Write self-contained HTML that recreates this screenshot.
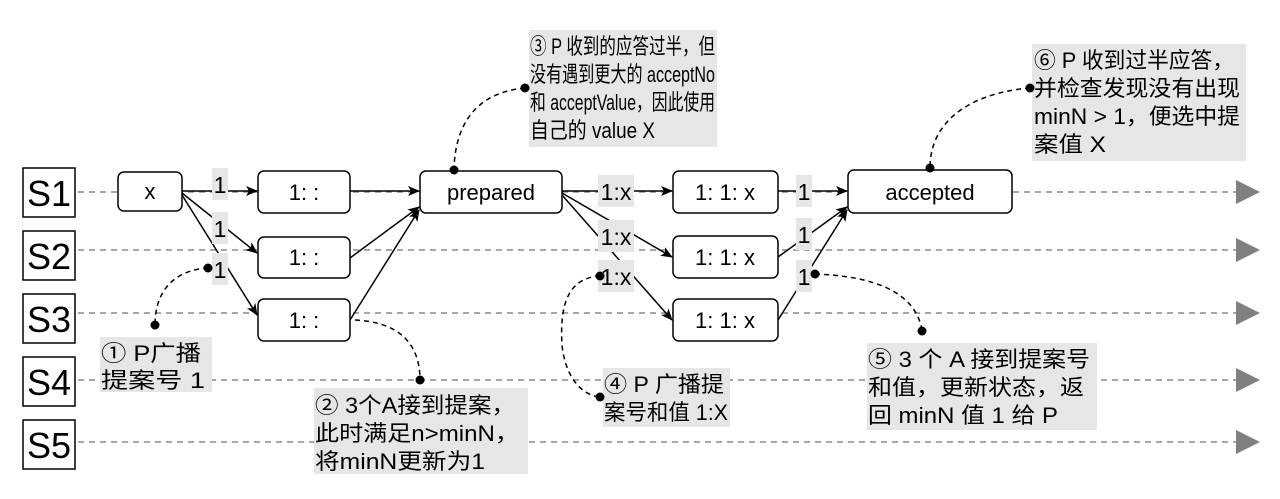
<!DOCTYPE html>
<html><head><meta charset="utf-8">
<style>html,body{margin:0;padding:0;background:#fff;}svg{display:block;}
text{font-family:"Liberation Sans","Noto Sans CJK SC",sans-serif;fill:#000;}
</style></head><body>
<svg width="1280" height="499" viewBox="0 0 1280 499" xmlns="http://www.w3.org/2000/svg">
<defs>
<marker id="ah" markerWidth="12" markerHeight="10" refX="11" refY="5" orient="auto" markerUnits="userSpaceOnUse"><path d="M0,0 L12,5 L0,10 L3,5 z" fill="#000"/></marker>
</defs>
<g stroke="#888" stroke-width="1.5" stroke-dasharray="6,5" fill="none">
<line x1="78" y1="192" x2="1238" y2="192"/>
<line x1="78" y1="250" x2="1238" y2="250"/>
<line x1="78" y1="313" x2="1238" y2="313"/>
<line x1="78" y1="380" x2="1238" y2="380"/>
<line x1="78" y1="442" x2="1238" y2="442"/>
</g>
<g fill="#808080">
<polygon points="1236,180 1260,192 1236,204"/>
<polygon points="1236,238 1260,250 1236,262"/>
<polygon points="1236,301 1260,313 1236,325"/>
<polygon points="1236,368 1260,380 1236,392"/>
<polygon points="1236,430 1260,442 1236,454"/>
</g>
<g fill="#fff" stroke="#000" stroke-width="1.5">
<rect x="23" y="168" width="52" height="49"/>
<rect x="23" y="231" width="52" height="49"/>
<rect x="23" y="294" width="52" height="49"/>
<rect x="23" y="357" width="52" height="49"/>
<rect x="23" y="420" width="52" height="49"/>
</g>
<g font-size="36" text-anchor="middle">
<text x="49" y="206">S1</text><text x="49" y="269">S2</text><text x="49" y="332">S3</text><text x="49" y="395">S4</text><text x="49" y="458">S5</text>
</g>
<g fill="#e6e6e6">
<rect x="529" y="30" width="188" height="117"/>
<rect x="1032" y="44" width="214" height="117"/>
<rect x="100" y="337" width="112" height="55"/>
<rect x="314" y="388" width="214" height="86"/>
<rect x="603" y="368" width="127" height="59"/>
<rect x="867" y="343" width="230" height="87"/>
</g>
<g stroke="#000" stroke-width="1.5" fill="none" marker-end="url(#ah)">
<line x1="182" y1="191" x2="257" y2="191"/>
<line x1="182" y1="193" x2="257" y2="253"/>
<line x1="182" y1="195" x2="257" y2="315"/>
<line x1="350" y1="191" x2="419" y2="191"/>
<line x1="350" y1="258" x2="419" y2="207"/>
<line x1="350" y1="320" x2="419" y2="210"/>
<line x1="562" y1="191" x2="672" y2="191"/>
<line x1="562" y1="193" x2="672" y2="257"/>
<line x1="562" y1="195" x2="672" y2="320"/>
<line x1="778" y1="191" x2="847" y2="191"/>
<line x1="778" y1="257" x2="847" y2="207"/>
<line x1="778" y1="320" x2="847" y2="210"/>
</g>
<g fill="#e6e6e6">
<rect x="212" y="168" width="16" height="32"/>
<rect x="212" y="212" width="16" height="32"/>
<rect x="212" y="253" width="16" height="32"/>
<rect x="598" y="175" width="36" height="32"/>
<rect x="598" y="220" width="36" height="32"/>
<rect x="598" y="260" width="36" height="32"/>
<rect x="796" y="175" width="16" height="32"/>
<rect x="796" y="218" width="16" height="32"/>
<rect x="796" y="260" width="16" height="32"/>
</g>
<g fill="#fff" stroke="#000" stroke-width="1.5">
<rect x="118" y="172" width="64" height="39" rx="6"/>
<rect x="258" y="171" width="92" height="42" rx="6"/>
<rect x="258" y="237" width="92" height="41" rx="6"/>
<rect x="258" y="299" width="92" height="42" rx="6"/>
<rect x="420" y="171" width="142" height="42" rx="6"/>
<rect x="673" y="171" width="105" height="42" rx="6"/>
<rect x="673" y="236" width="105" height="42" rx="6"/>
<rect x="673" y="299" width="105" height="42" rx="6"/>
<rect x="848" y="170" width="164" height="43" rx="6"/>
</g>
<g font-size="22" text-anchor="middle">
<text x="150" y="199">x</text>
<text x="304" y="200">1:  :</text><text x="304" y="265">1:  :</text><text x="304" y="328">1:  :</text>
<text x="491" y="200">prepared</text>
<text x="725" y="200">1: 1: x</text><text x="725" y="265">1: 1: x</text><text x="725" y="328">1: 1: x</text>
<text x="930" y="200">accepted</text>
</g>
<g font-size="23" text-anchor="middle">
<text x="220" y="193">1</text><text x="220" y="237">1</text><text x="220" y="278">1</text>
<text x="616" y="200">1:x</text><text x="616" y="245">1:x</text><text x="616" y="285">1:x</text>
<text x="804" y="200">1</text><text x="804" y="243">1</text><text x="804" y="285">1</text>
</g>
<g stroke="#000" stroke-width="1.5" stroke-dasharray="5,4" fill="none">
<path d="M525,88 C480,92 455,120 454,170"/>
<path d="M1030,88 C980,92 930,115 930,168"/>
<path d="M208,268 C175,270 155,290 155,325"/>
<path d="M355,320 C395,322 420,340 420,380"/>
<path d="M600,276 C565,278 560,310 562,345 C565,375 580,395 600,397"/>
<path d="M815,274 C870,276 915,290 922,330"/>
</g>
<g fill="#000">
<circle cx="525" cy="88" r="4.5"/><circle cx="454" cy="170" r="4.5"/>
<circle cx="1030" cy="88" r="4.5"/><circle cx="930" cy="168" r="4.5"/>
<circle cx="208" cy="268" r="4.5"/><circle cx="155" cy="325" r="4.5"/>
<circle cx="420" cy="380" r="4.5"/>
<circle cx="600" cy="276" r="4.5"/><circle cx="600" cy="397" r="4.5"/>
<circle cx="815" cy="274" r="4.5"/><circle cx="922" cy="331" r="4.5"/>
</g>
<g font-size="22">
<text x="530" y="54" textLength="185" lengthAdjust="spacingAndGlyphs">③ P 收到的应答过半，但</text>
<text x="530" y="82" textLength="185" lengthAdjust="spacingAndGlyphs">没有遇到更大的 acceptNo</text>
<text x="530" y="110" textLength="185" lengthAdjust="spacingAndGlyphs">和 acceptValue，因此使用</text>
<text x="530" y="138" textLength="125" lengthAdjust="spacingAndGlyphs">自己的 value X</text>
<text x="1034" y="68" textLength="200" lengthAdjust="spacingAndGlyphs">⑥ P 收到过半应答，</text>
<text x="1034" y="96" textLength="206" lengthAdjust="spacingAndGlyphs">并检查发现没有出现</text>
<text x="1034" y="124" textLength="206" lengthAdjust="spacingAndGlyphs">minN &gt; 1，便选中提</text>
<text x="1034" y="152" textLength="72" lengthAdjust="spacingAndGlyphs">案值 X</text>
<text x="101" y="361" textLength="100" lengthAdjust="spacingAndGlyphs">① P广播</text>
<text x="101" y="388" textLength="104" lengthAdjust="spacingAndGlyphs">提案号 1</text>
<text x="315" y="413" textLength="200" lengthAdjust="spacingAndGlyphs">② 3个A接到提案，</text>
<text x="315" y="441" textLength="204" lengthAdjust="spacingAndGlyphs">此时满足n&gt;minN，</text>
<text x="315" y="469" textLength="170" lengthAdjust="spacingAndGlyphs">将minN更新为1</text>
<text x="604" y="392" textLength="120" lengthAdjust="spacingAndGlyphs">④ P 广播提</text>
<text x="604" y="420" textLength="124" lengthAdjust="spacingAndGlyphs">案号和值 1:X</text>
<text x="868" y="367" textLength="222" lengthAdjust="spacingAndGlyphs">⑤ 3 个 A 接到提案号</text>
<text x="868" y="395" textLength="216" lengthAdjust="spacingAndGlyphs">和值，更新状态，返</text>
<text x="868" y="423" textLength="190" lengthAdjust="spacingAndGlyphs">回 minN 值 1 给 P</text>
</g>
</svg>
</body></html>
